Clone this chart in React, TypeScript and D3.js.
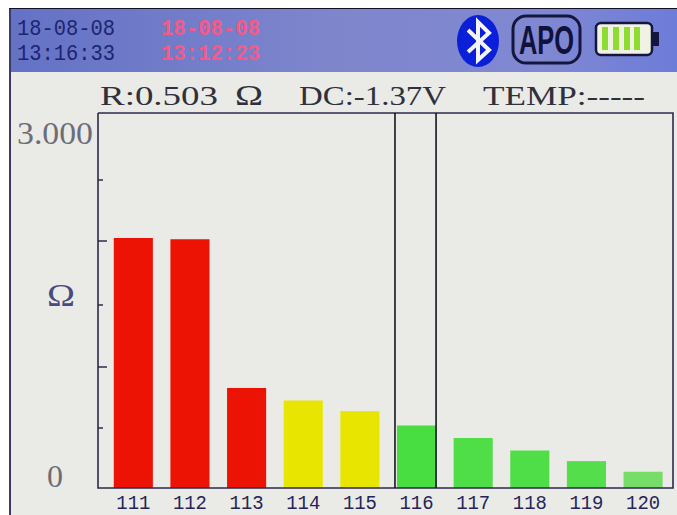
import React, { useMemo } from "react";
import * as d3 from "d3";

const categories = ["111", "112", "113", "114", "115", "116", "117", "118", "119", "120"];
const resistance = [2.0, 1.99, 0.8, 0.7, 0.615, 0.5, 0.4, 0.3, 0.215, 0.13];
const barColors = ["#ec1204", "#ec1204", "#ec1204", "#e8e600", "#e8e600", "#48dd40", "#50de48", "#50de48", "#55de4c", "#78dc68"];
const yTicks = [0.48, 0.968, 1.464, 1.976, 2.464];
const yTickLong = [false, true, false, true, false];
const selected = "116";
const statusText = [
  { t: "R:0.503", x: 100, w: 118 },
  { t: "DC:-1.37V", x: 299, w: 147 },
  { t: "TEMP:-----", x: 483, w: 162 },
];
const batteryBars = [602, 613, 624, 634];

const mono = "'Liberation Mono','DejaVu Sans Mono',monospace";
const serif = "'Liberation Serif','DejaVu Serif',serif";
const W = 677, H = 515;

export default function App() {
  const x = useMemo(() => d3.scaleBand<string>().domain(categories).range([105, 671.4]).paddingInner(0.31).paddingOuter(0.155), []);
  const y = useMemo(() => d3.scaleLinear().domain([0, 3]).range([488, 113]), []);
  const bw = x.bandwidth();
  const ink = "#2b2b4a";
  const selX = x(selected)!;
  return (
    <svg width={W} height={H} viewBox={`0 0 ${W} ${H}`} style={{ position: "absolute", left: 0, top: 0, background: "#fff" }}>
      <defs>
        <linearGradient id="hdr" x1="0" x2="1" y1="0" y2="0">
          <stop offset="0" stopColor="#6472c6" />
          <stop offset="0.5" stopColor="#7f86cc" />
          <stop offset="0.8" stopColor="#8088d2" />
          <stop offset="1" stopColor="#6d7cd8" />
        </linearGradient>
      </defs>
      <rect x={9} y={72} width={668} height={443} fill="#eaeae6" />
      <rect x={9} y={8} width={668} height={2} fill="#111122" />
      <rect x={10} y={9} width={667} height={63} fill="url(#hdr)" />
      <rect x={9} y={9} width={2} height={506} fill="#3d3a6a" />

      <g fontFamily={mono} fontSize={22}>
        <text x={17} y={35} fill="#1d2470" textLength={98} lengthAdjust="spacingAndGlyphs">18-08-08</text>
        <text x={17} y={60} fill="#1d2470" textLength={98} lengthAdjust="spacingAndGlyphs">13:16:33</text>
        <text x={161} y={35} fill="#f45a88" fontWeight={700} textLength={99} lengthAdjust="spacingAndGlyphs">18-08-08</text>
        <text x={161} y={60} fill="#f45a88" fontWeight={700} textLength={99} lengthAdjust="spacingAndGlyphs">13:12:23</text>
      </g>

      <ellipse cx={478} cy={41} rx={21} ry={26} fill="#0a1fd8" />
      <path d="M468 30 L489 50 L478 60 L478 22 L489 33 L468 52" fill="none" stroke="#f4f4ff" strokeWidth={4} />
      <rect x={513} y={16} width={67} height={47} rx={13} fill="none" stroke="#14163e" strokeWidth={3} />
      <text x={519} y={54} fontFamily="'Liberation Sans',Arial,sans-serif" fontWeight={700} fontSize={40} fill="#10123c" textLength={55} lengthAdjust="spacingAndGlyphs">APO</text>
      <rect x={596} y={23} width={56} height={32} rx={5} fill="#f0f2e4" stroke="#14163e" strokeWidth={2.5} />
      <rect x={653} y={32} width={6} height={14} fill="#14163e" />
      {batteryBars.map((bx) => (
        <rect key={bx} x={bx} y={27} width={6} height={23} fill="#8fdc30" />
      ))}

      <g fontFamily={serif} fontSize={27} fill="#30303c">
        {statusText.map((s) => (
          <text key={s.t} x={s.x} y={105} textLength={s.w} lengthAdjust="spacingAndGlyphs">{s.t}</text>
        ))}
        <text x={235} y={105} fontSize={30} textLength={28} lengthAdjust="spacingAndGlyphs">Ω</text>
      </g>

      {categories.map((c, i) => (
        <rect key={c} x={x(c)!} y={y(resistance[i])} width={bw} height={y(0) - y(resistance[i])} fill={barColors[i]} />
      ))}

      <path d={`M98 ${y(3)}H673V${y(0)}H98V${y(3)}`} fill="none" stroke={ink} strokeWidth={1.6} />
      {yTicks.map((t, i) => (
        <line key={t} x1={98} x2={yTickLong[i] ? 107 : 103} y1={y(t)} y2={y(t)} stroke={ink} strokeWidth={1.5} />
      ))}
      <line x1={selX - 2} x2={selX - 2} y1={y(3)} y2={y(0)} stroke="#15151f" strokeWidth={1.6} />
      <line x1={selX + bw} x2={selX + bw} y1={y(3)} y2={y(0)} stroke="#15151f" strokeWidth={1.6} />

      <g fontFamily={serif} fill="#6d6d78" fontSize={31}>
        <text x={17} y={144} textLength={76} lengthAdjust="spacingAndGlyphs">3.000</text>
        <text x={47} y={487} textLength={16} lengthAdjust="spacingAndGlyphs">0</text>
        <text x={47} y={306} fill="#4a4a80" textLength={28} lengthAdjust="spacingAndGlyphs">Ω</text>
      </g>
      <g fontFamily={mono} fontSize={20} fill="#24245a" textAnchor="middle">
        {categories.map((c) => (
          <text key={c} x={x(c)! + bw / 2} y={509} textLength={34} lengthAdjust="spacingAndGlyphs">{c}</text>
        ))}
      </g>
    </svg>
  );
}
